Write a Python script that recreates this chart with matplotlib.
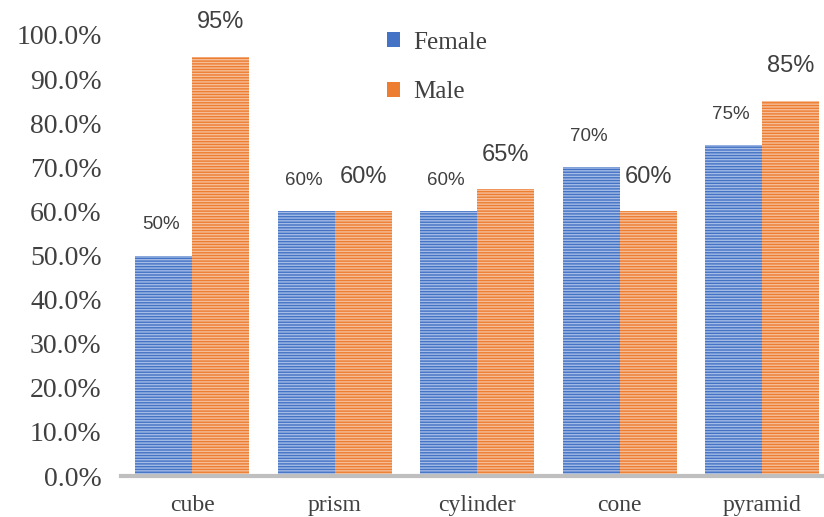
import numpy as np
import matplotlib.pyplot as plt
from matplotlib.patches import Patch
from matplotlib.ticker import PercentFormatter

categories = ['cube', 'prism', 'cylinder', 'cone', 'pyramid']
female = [0.50, 0.60, 0.60, 0.70, 0.75]
male = [0.95, 0.60, 0.65, 0.60, 0.85]

plt.rcParams['hatch.linewidth'] = 1.0

fig = plt.figure(figsize=(8.24, 5.17), dpi=100)
ax = fig.add_axes([121 / 824, 41 / 517, 701 / 824, 441 / 517])

x = np.arange(len(categories))
w = 0.4
ax.bar(x - w / 2, female, w, color='#4472C4', edgecolor='#A4BCE6',
       hatch='------', linewidth=0)
ax.bar(x + w / 2, male, w, color='#ED7D31', edgecolor='#F6BE98',
       hatch='------', linewidth=0)

# value labels
for xi, v in zip(x - w / 2, female):
    ax.annotate(f'{v * 100:.0f}%', (xi, v), xytext=(-2, 22), textcoords='offset points',
                ha='center', va='center', fontsize=13.5, color='#404040',
                family='Liberation Sans')
for xi, v in zip(x + w / 2, male):
    ax.annotate(f'{v * 100:.0f}%', (xi, v), xytext=(0, 25), textcoords='offset points',
                ha='center', va='center', fontsize=17, color='#404040',
                family='Liberation Sans')

ax.set_xlim(-0.5, 4.42)
ax.set_ylim(0, 1.0)
ax.set_yticks(np.arange(0, 1.01, 0.1))
ax.yaxis.set_major_formatter(PercentFormatter(1.0, decimals=1))
ax.set_xticks(x)
ax.set_xticklabels(categories)

for lab in ax.get_yticklabels():
    lab.set_family('Liberation Serif')
    lab.set_fontsize(20)
    lab.set_color('#404040')
for lab in ax.get_xticklabels():
    lab.set_family('Liberation Serif')
    lab.set_fontsize(17)
    lab.set_color('#404040')

ax.tick_params(axis='both', length=0)
ax.tick_params(axis='y', pad=14)
ax.tick_params(axis='x', pad=14)

for s in ['top', 'right', 'left']:
    ax.spines[s].set_visible(False)
ax.spines['bottom'].set_color('#BFBFBF')
ax.spines['bottom'].set_linewidth(3)

handles = [Patch(facecolor='#4472C4', label='Female'),
           Patch(facecolor='#ED7D31', label='Male')]
leg = ax.legend(handles=handles, loc='upper left', bbox_to_anchor=(364 / 824, 1 - 9 / 517),
                bbox_transform=fig.transFigure, frameon=False,
                handlelength=0.55, handleheight=0.55, handletextpad=0.5,
                labelspacing=1.1, prop={'family': 'Liberation Serif', 'size': 18})
for t in leg.get_texts():
    t.set_color('#404040')

fig.savefig('out.png', dpi=100)
